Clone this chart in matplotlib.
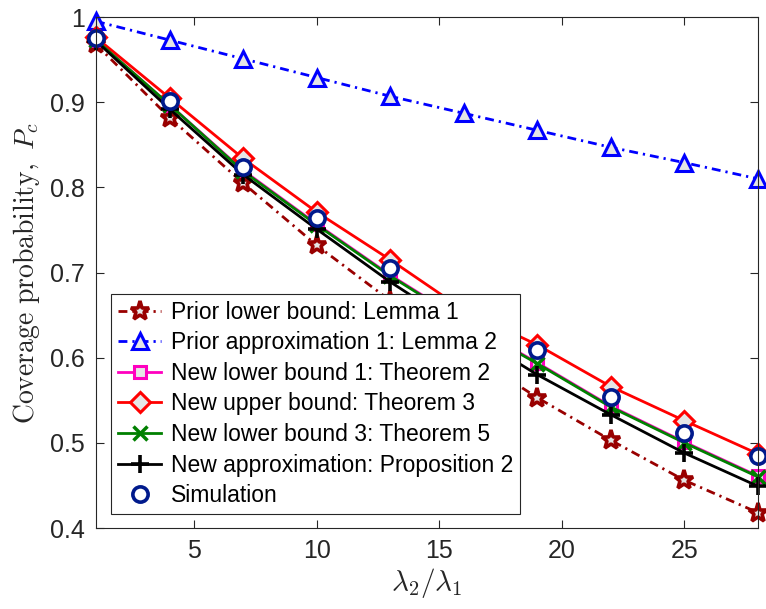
import matplotlib
matplotlib.use("Agg")
import matplotlib.pyplot as plt

plt.rcParams['font.family'] = ['Liberation Sans', 'DejaVu Sans']
plt.rcParams['mathtext.fontset'] = 'cm'

# density ratio lambda2 / lambda1
ratio = [1, 4, 7, 10, 13, 16, 19, 22, 25, 28]

prior_lower_lemma1 = [0.968, 0.882, 0.805, 0.732, 0.667, 0.609, 0.553, 0.503, 0.456, 0.418]
prior_approx_lemma2 = [0.995, 0.973, 0.951, 0.929, 0.907, 0.887, 0.867, 0.847, 0.829, 0.810]
new_lower1_thm2 = [0.973, 0.897, 0.820, 0.757, 0.697, 0.643, 0.594, 0.543, 0.501, 0.461]
new_upper_thm3 = [0.976, 0.905, 0.834, 0.771, 0.715, 0.656, 0.615, 0.566, 0.526, 0.487]
new_lower3_thm5 = [0.973, 0.897, 0.819, 0.756, 0.696, 0.642, 0.593, 0.542, 0.500, 0.460]
new_approx_prop2 = [0.972, 0.892, 0.815, 0.751, 0.689, 0.633, 0.580, 0.533, 0.488, 0.449]
simulation = [0.975, 0.901, 0.824, 0.764, 0.705, 0.652, 0.609, 0.554, 0.512, 0.485]

labels = [
    "Prior lower bound: Lemma 1",
    "Prior approximation 1: Lemma 2",
    "New lower bound 1: Theorem 2",
    "New upper bound: Theorem 3",
    "New lower bound 3: Theorem 5",
    "New approximation: Proposition 2",
    "Simulation",
]

fig = plt.figure(figsize=(7.66, 6.09), dpi=100)
ax = fig.add_axes([0.1253, 0.133, 0.8643, 0.839])

face = (0.9, 0.9, 0.9)
darkred = (0.6, 0.0, 0.0)
dashdot = (3.2, 1.8, 0.8, 1.8)
lw = 2.0

ax.plot(ratio, prior_lower_lemma1, linestyle='-.', dashes=dashdot, color=darkred, lw=lw,
        marker='*', ms=14, mfc=face, mec=darkred, mew=2.6, label=labels[0], clip_on=False)
ax.plot(ratio, prior_approx_lemma2, linestyle='-.', dashes=dashdot, color='blue', lw=lw,
        marker='^', ms=12, mfc=face, mec='blue', mew=2.2, label=labels[1], clip_on=False)
ax.plot(ratio, new_lower1_thm2, linestyle='-', color=(1.0, 0.0, 0.75), lw=lw,
        marker='s', ms=8.5, mfc=face, mec=(1.0, 0.0, 0.75), mew=2.2, label=labels[2], clip_on=False)
ax.plot(ratio, new_upper_thm3, linestyle='-', color='red', lw=lw,
        marker='D', ms=10, mfc=face, mec='red', mew=2.2, label=labels[3], clip_on=False)
ax.plot(ratio, new_lower3_thm5, linestyle='-', color=(0.0, 0.5, 0.0), lw=lw,
        marker='x', ms=9.5, mec=(0.0, 0.5, 0.0), mew=2.5, label=labels[4], clip_on=False)
ax.plot(ratio, new_approx_prop2, linestyle='-', color='black', lw=lw,
        marker='+', ms=13, mec='black', mew=2.6, label=labels[5], clip_on=False)
ax.plot(ratio, simulation, linestyle='none', marker='o', ms=11,
        mfc='white', mec=(0.0, 0.1, 0.55), mew=2.6, label=labels[6], clip_on=False)

ax.set_xlim(1, 28)
ax.set_ylim(0.4, 1.0)
ax.set_xticks([5, 10, 15, 20, 25])
ax.set_yticks([0.4, 0.5, 0.6, 0.7, 0.8, 0.9, 1.0])
ax.set_yticklabels(['0.4', '0.5', '0.6', '0.7', '0.8', '0.9', '1'])

axis_gray = (0.15, 0.15, 0.15)
for s in ax.spines.values():
    s.set_color(axis_gray)
    s.set_linewidth(0.8)
ax.tick_params(direction='in', top=True, right=True, length=6, width=0.8,
               colors=axis_gray, labelsize=18, pad=8)

ax.set_xlabel(r'$\lambda_2/\lambda_1$', fontsize=21, color=axis_gray, labelpad=2)
ax.set_ylabel(r'$\mathrm{Coverage\ probability,}\ P_c$', fontsize=20,
              color=axis_gray, labelpad=6)

leg = ax.legend(loc='lower left', bbox_to_anchor=(0.0227, 0.0274),
                borderaxespad=0, fontsize=16.5, frameon=True, fancybox=False,
                framealpha=1, edgecolor=axis_gray, handlelength=1.9,
                handletextpad=0.4, labelspacing=0.33, borderpad=0.3)
leg.get_frame().set_linewidth(0.8)
leg.set_zorder(10)

fig.savefig('out.png', dpi=100)
